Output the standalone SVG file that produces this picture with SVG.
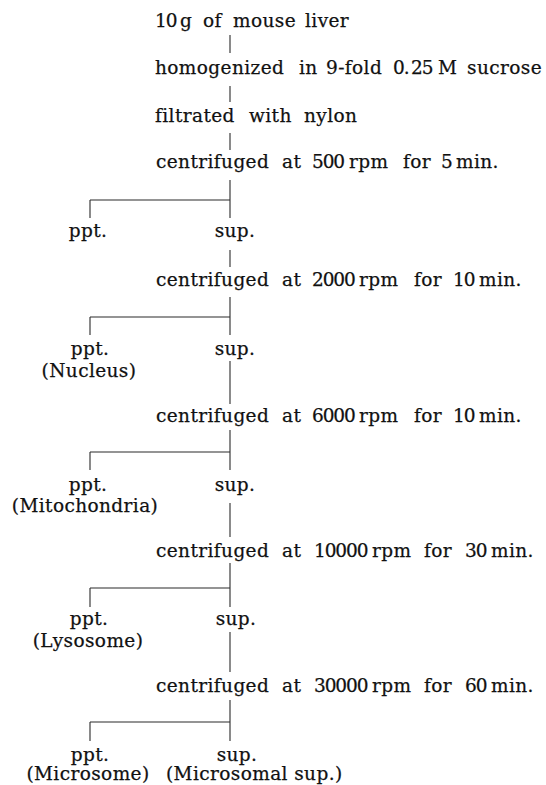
<svg xmlns="http://www.w3.org/2000/svg" width="546" height="785" viewBox="0 0 546 785">
  <style>
    text { font-family: "DejaVu Serif", "Liberation Serif", serif; font-size: 18.5px; fill: #111; stroke: #111; stroke-width: 0.25; letter-spacing: 0.4px; }
    .n { letter-spacing: -1.1px; }
    .c { text-anchor: middle; }
    .ln { stroke: #2b2b2b; stroke-width: 1.1; fill: none; }
  </style>
  <rect width="546" height="785" fill="#fff"/>

  <!-- flow connectors: trunk at x=230, precipitate branches at x=90 -->
  <g id="connectors" class="ln">
    <path d="M230 35V53 M230 86V102 M230 133V150"/>
    <path d="M230 180V218 M90 200H230 M90 200V218"/>
    <path d="M230 250V267"/>
    <path d="M230 297V335 M90 317H230 M90 317V335"/>
    <path d="M230 361V404"/>
    <path d="M230 430V470 M90 452H230 M90 452V470"/>
    <path d="M230 503V537"/>
    <path d="M230 563V607 M90 588H230 M90 588V607"/>
    <path d="M230 632V672"/>
    <path d="M230 700V741 M90 722H230 M90 722V741"/>
  </g>

  <g id="start">
    <text y="27"><tspan x="155" class="n">10</tspan><tspan x="180">g</tspan> <tspan x="203">of</tspan> <tspan x="233">mouse</tspan> <tspan x="305">liver</tspan></text>
  </g>
  <g id="homogenize">
    <text y="74"><tspan x="155">homogenized</tspan> <tspan x="299">in</tspan> <tspan x="326">9-fold</tspan> <tspan x="393" class="n">0.</tspan> <tspan x="411" class="n">25</tspan> <tspan x="438">M</tspan> <tspan x="467">sucrose</tspan></text>
  </g>
  <g id="filtrate">
    <text y="122"><tspan x="155">filtrated</tspan> <tspan x="249">with</tspan> <tspan x="304">nylon</tspan></text>
  </g>

  <g id="spin1">
    <text y="168"><tspan x="156">centrifuged</tspan> <tspan x="282">at</tspan> <tspan x="312" class="n">500</tspan> <tspan x="349">rpm</tspan> <tspan x="403">for</tspan> <tspan x="441" class="n">5</tspan> <tspan x="456">min.</tspan></text>
  </g>
  <g id="ppt1"><text class="c" x="88" y="237">ppt.</text></g>
  <g id="sup1"><text class="c" x="235" y="237">sup.</text></g>

  <g id="spin2">
    <text y="286"><tspan x="156">centrifuged</tspan> <tspan x="282">at</tspan> <tspan x="312" class="n">2000</tspan> <tspan x="359">rpm</tspan> <tspan x="414">for</tspan> <tspan x="453" class="n">10</tspan> <tspan x="479">min.</tspan></text>
  </g>
  <g id="ppt2">
    <text class="c" x="90" y="355">ppt.</text>
    <text class="c" x="89" y="377">(Nucleus)</text>
  </g>
  <g id="sup2"><text class="c" x="235" y="355">sup.</text></g>

  <g id="spin3">
    <text y="422"><tspan x="156">centrifuged</tspan> <tspan x="282">at</tspan> <tspan x="312" class="n">6000</tspan> <tspan x="359">rpm</tspan> <tspan x="414">for</tspan> <tspan x="453" class="n">10</tspan> <tspan x="479">min.</tspan></text>
  </g>
  <g id="ppt3">
    <text class="c" x="88" y="491">ppt.</text>
    <text class="c" x="85" y="512">(Mitochondria)</text>
  </g>
  <g id="sup3"><text class="c" x="235" y="491">sup.</text></g>

  <g id="spin4">
    <text y="557"><tspan x="156">centrifuged</tspan> <tspan x="282">at</tspan> <tspan x="314" class="n">10000</tspan> <tspan x="372">rpm</tspan> <tspan x="424">for</tspan> <tspan x="465" class="n">30</tspan> <tspan x="491">min.</tspan></text>
  </g>
  <g id="ppt4">
    <text class="c" x="89" y="625">ppt.</text>
    <text class="c" x="88" y="647">(Lysosome)</text>
  </g>
  <g id="sup4"><text class="c" x="236" y="625">sup.</text></g>

  <g id="spin5">
    <text y="692"><tspan x="156">centrifuged</tspan> <tspan x="282">at</tspan> <tspan x="314" class="n">30000</tspan> <tspan x="372">rpm</tspan> <tspan x="424">for</tspan> <tspan x="465" class="n">60</tspan> <tspan x="491">min.</tspan></text>
  </g>
  <g id="ppt5">
    <text class="c" x="90" y="761">ppt.</text>
    <text class="c" x="88" y="780">(Microsome)</text>
  </g>
  <g id="sup5">
    <text class="c" x="237" y="761">sup.</text>
    <text x="166" y="780">(Microsomal sup.)</text>
  </g>
</svg>
